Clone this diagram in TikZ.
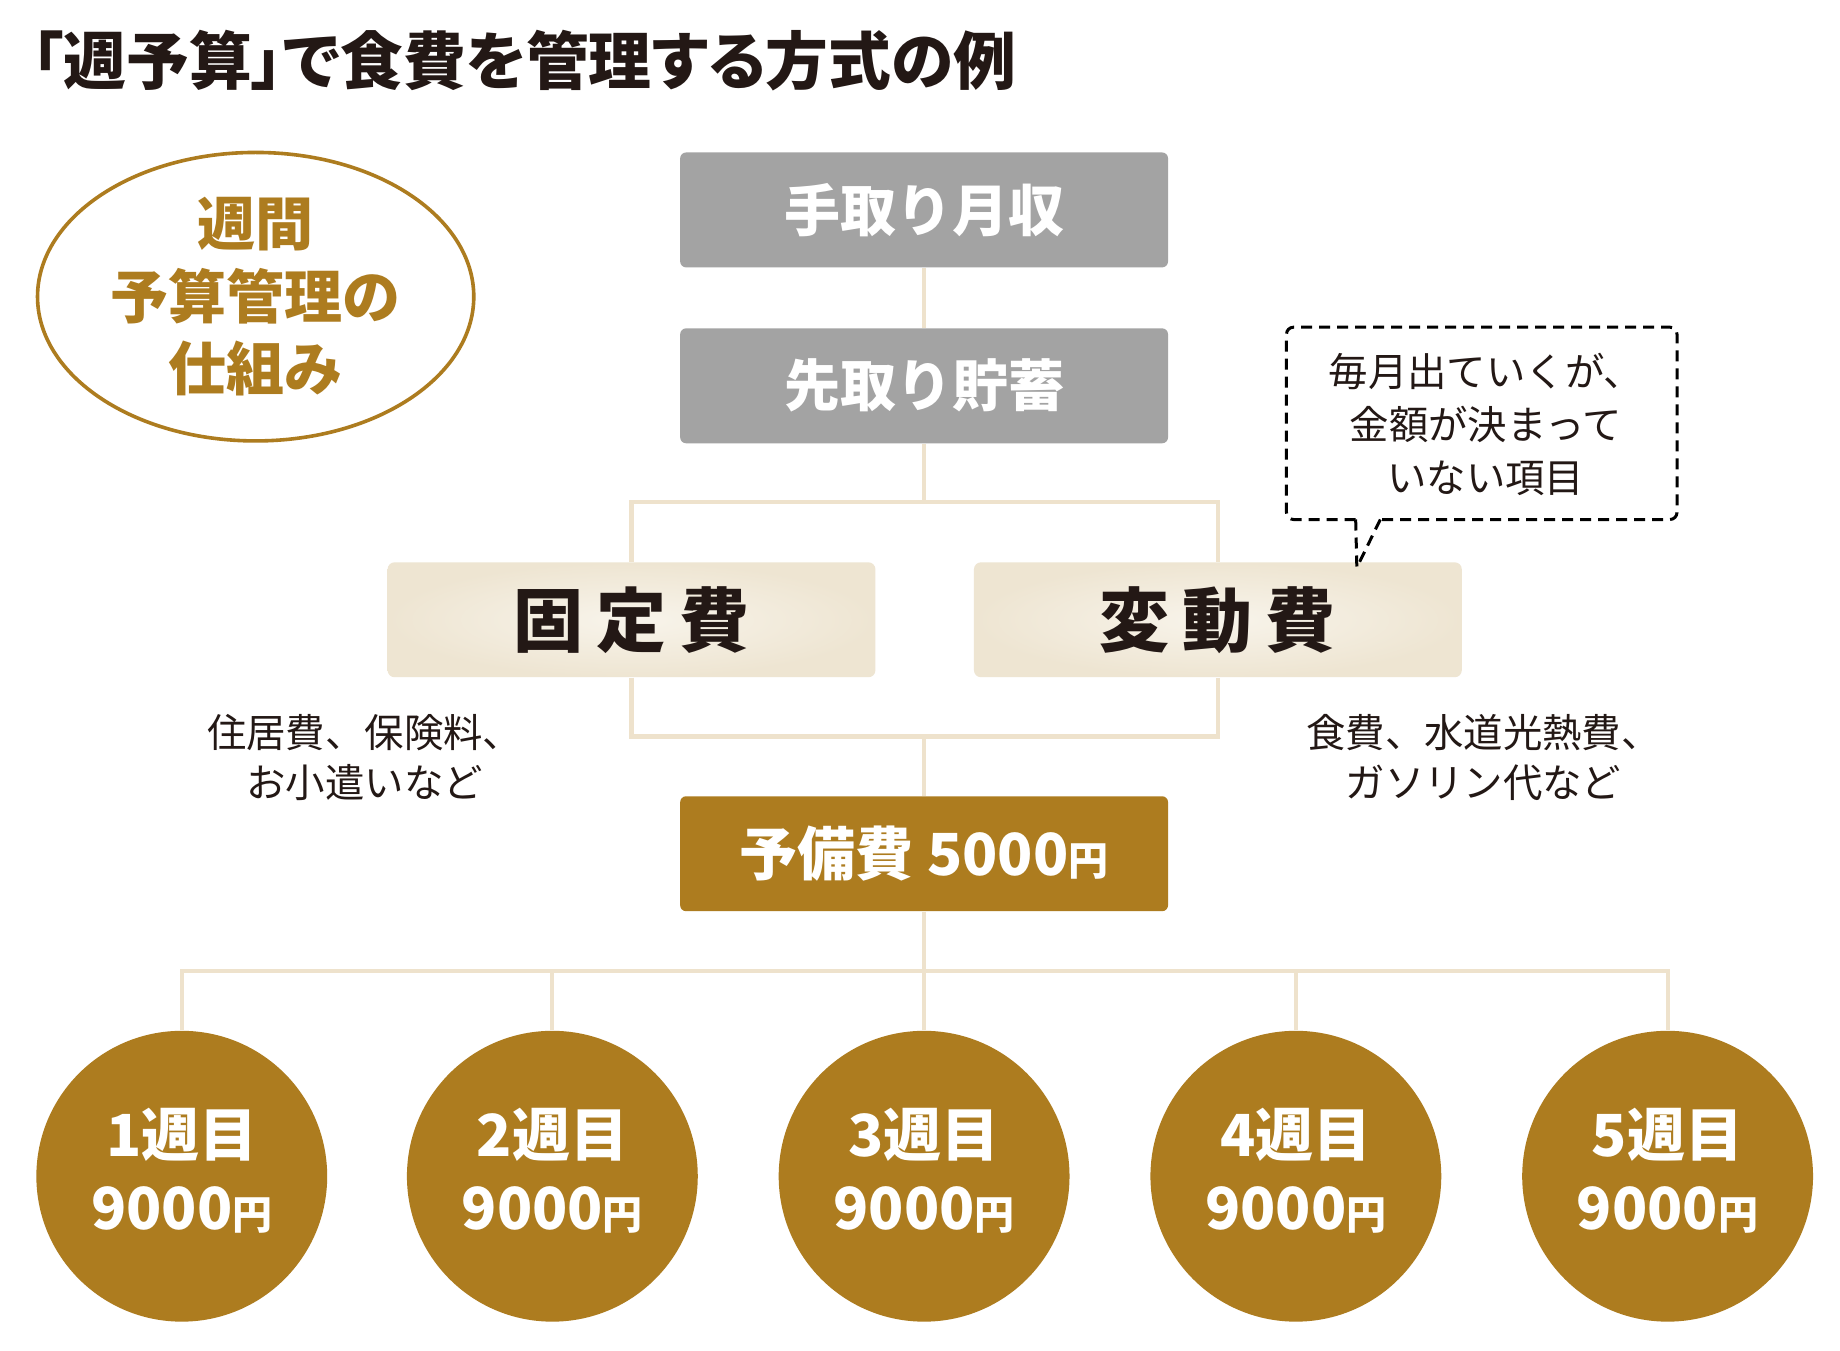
\documentclass[tikz,border=0pt]{standalone}
\usepackage{fontspec}
\newfontfamily\jp{Noto Sans CJK JP}
\newfontfamily\jpp[RawFeature=+palt]{Noto Sans CJK JP}
\usetikzlibrary{positioning,shapes.geometric}
\newdimen\pu \pu=0.5864pt
\definecolor{gold}{HTML}{AD7C1F}
\definecolor{grayb}{HTML}{A3A3A3}
\definecolor{creamln}{HTML}{EEE2CC}
\definecolor{creamin}{HTML}{F8F4EB}
\definecolor{creamout}{HTML}{EEE5D2}
\definecolor{ink}{HTML}{231815}
\tikzset{
  gbox/.style={fill=grayb, rounded corners=5\pu, minimum width=416\pu, minimum height=98\pu, inner sep=0pt, text=white, font=\jp\bfseries\fontsize{28}{30}\selectfont},
  rbox/.style={fill=gold, rounded corners=5\pu, minimum width=416\pu, minimum height=98\pu, inner sep=0pt, text=white, font=\jp\bfseries\fontsize{29}{30}\selectfont},
  cbox/.style={inner color=creamin, outer color=creamout, rounded corners=6\pu, minimum width=416\pu, minimum height=98\pu, inner sep=0pt, text=ink, font=\jp\bfseries\fontsize{35}{38}\selectfont},
  week/.style={circle, fill=gold, minimum size=248\pu, inner sep=0pt},
  weektext/.style={text=white, align=center, inner sep=0pt, font=\jp\bfseries\fontsize{29}{36.5}\selectfont},
  conn/.style={draw=creamln, line width=2.1pt},
  sidetext/.style={text=ink, align=center, font=\jp\fontsize{19.7}{25.4}\selectfont, inner sep=0pt},
  notestyle/.style={line width=1.5pt, dash pattern=on 5.5pt off 3.5pt},
}
\newcommand{\yen}{{\fontsize{20}{20}\selectfont 円}}
\begin{document}
\begin{tikzpicture}[x=\pu, y=-\pu]
\useasboundingbox (0,0) rectangle (1569,1151.3);
\fill[white] (0,0) rectangle (1569,1151.3);

% title
\node[anchor=west, inner sep=0pt, text=ink, font=\jpp\bfseries\fontsize{31.4}{33}\selectfont] (title) at (27,52) {「週予算」で食費を管理する方式の例};

% ellipse
\node[draw=gold, line width=1.8pt, ellipse, minimum width=372\pu, minimum height=246\pu, inner sep=0pt, text=gold, align=center, font=\jp\bfseries\fontsize{29}{36.3}\selectfont] (ell) at (218,253) {週間\\予算管理の\\仕組み};

% boxes
\node[gbox] (inc) at (788,179) {手取り月収};
\node[gbox] (sav) at (788,329) {先取り貯蓄};
\node[cbox] (fix) at (538.5,528.5) {固\hspace{6.5pt}定\hspace{6.5pt}費};
\node[cbox] (var) at (1038.5,528.5) {変\hspace{6.5pt}動\hspace{6.5pt}費};
\node[rbox] (res) at (788,728) {予備費 5000\yen};

% side texts
\node[sidetext] (fixd) at (311,646) {住居費、保険料、\\お小遣いなど};
\node[sidetext] (vard) at (1265,646) {食費、水道光熱費、\\ガソリン代など};

% callout
\node[sidetext, font=\jp\fontsize{19.7}{26.5}\selectfont] (note) at (1267,362) {毎月出ていくが、\\金額が決まって\\いない項目};
\draw[notestyle, rounded corners=6\pu]
  (1156,443) -- (1097,443) -- (1097,279) -- (1430,279) -- (1430,443) -- (1177,443);
\coordinate (tip) at (1157,484);
\draw[notestyle] (1156,443) -- (tip);
\draw[notestyle] (1177,443) -- (tip);

% weeks
\node[week] (w1) at (155,1003) {};
\node[week] (w2) at (471,1003) {};
\node[week] (w3) at (788,1003) {};
\node[week] (w4) at (1105,1003) {};
\node[week] (w5) at (1422,1003) {};
\node[weektext] (t1) at ([yshift=3pt]w1.center) {1週目\\9000\yen};
\node[weektext] (t2) at ([yshift=3pt]w2.center) {2週目\\9000\yen};
\node[weektext] (t3) at ([yshift=3pt]w3.center) {3週目\\9000\yen};
\node[weektext] (t4) at ([yshift=3pt]w4.center) {4週目\\9000\yen};
\node[weektext] (t5) at ([yshift=3pt]w5.center) {5週目\\9000\yen};

% connectors
\coordinate (j1) at (788,428);
\coordinate (j2) at (788,628);
\coordinate (j3) at (788,828);
\draw[conn] (inc.south) -- (sav.north);
\draw[conn] (sav.south) -- (j1);
\draw[conn] (fix.north) |- (j1) -| (var.north);
\draw[conn] (fix.south) |- (j2) -| (var.south);
\draw[conn] (j2) -- (res.north);
\draw[conn] (res.south) -- (j3);
\draw[conn] (w1.north) |- (j3) -| (w5.north);
\draw[conn] (w2.north) -- (w2.north |- j3);
\draw[conn] (w4.north) -- (w4.north |- j3);
\draw[conn] (w3.north) -- (j3);
\end{tikzpicture}
\end{document}
